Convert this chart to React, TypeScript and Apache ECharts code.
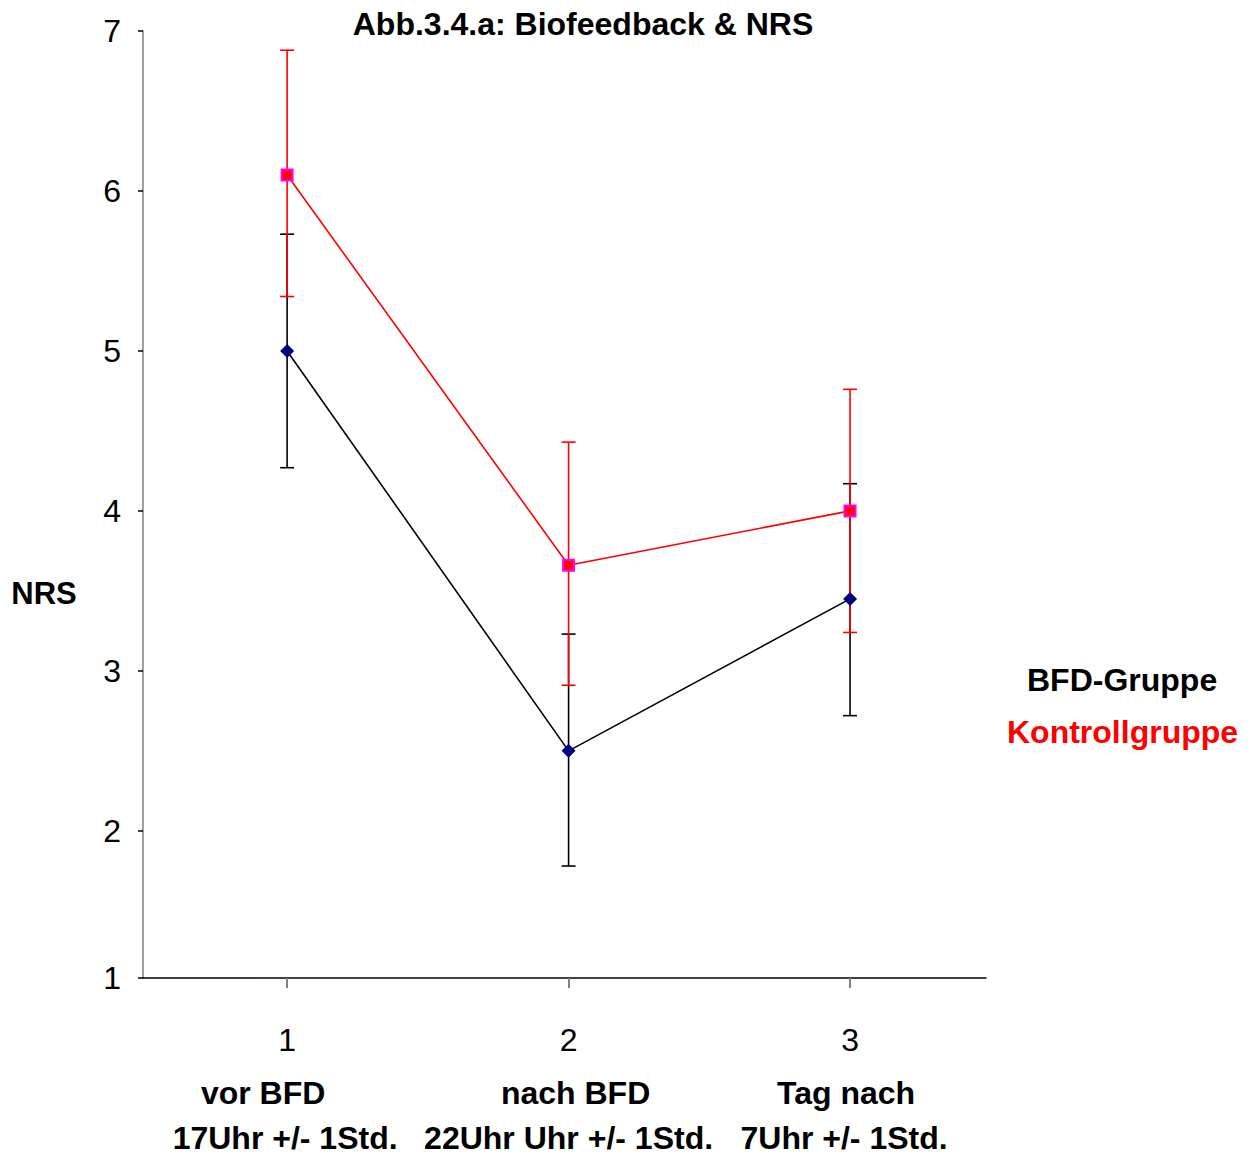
import React, { useEffect, useRef } from "react";
import * as echarts from "echarts";

const xValues = [1, 2, 3];
const labelLine1 = ["vor BFD", "nach BFD", "Tag nach"];
const labelLine2 = ["17Uhr +/- 1Std.", "22Uhr Uhr +/- 1Std.", "7Uhr +/- 1Std."];

const bfdMean = [5.0, 2.5, 3.45];
const bfdLow = [4.27, 1.78, 2.72];
const bfdHigh = [5.73, 3.23, 4.17];

const kontrMean = [6.1, 3.66, 4.0];
const kontrLow = [5.34, 2.91, 3.24];
const kontrHigh = [6.88, 4.43, 4.76];

const seriesNames = ["BFD-Gruppe", "Kontrollgruppe"];
const FONT = "'Liberation Sans', Arial, sans-serif";

function errorSeries(low: number[], high: number[], color: string, z: number) {
  return {
    type: "custom",
    z,
    silent: true,
    data: xValues.map((x, i) => [x, low[i], high[i]]),
    encode: { x: 0, y: [1, 2] },
    renderItem: (params: any, api: any) => {
      const x = api.value(0);
      const lo = api.coord([x, api.value(1)]);
      const hi = api.coord([x, api.value(2)]);
      const cap = 7;
      const style = { stroke: color, lineWidth: 1.6 };
      return {
        type: "group",
        children: [
          { type: "line", shape: { x1: lo[0], y1: lo[1], x2: hi[0], y2: hi[1] }, style },
          { type: "line", shape: { x1: hi[0] - cap, y1: hi[1], x2: hi[0] + cap, y2: hi[1] }, style },
          { type: "line", shape: { x1: lo[0] - cap, y1: lo[1], x2: lo[0] + cap, y2: lo[1] }, style },
        ],
      };
    },
  };
}

export default function App() {
  const ref = useRef<HTMLDivElement>(null);
  useEffect(() => {
    if (!ref.current) return;
    const chart = echarts.init(ref.current, null, { renderer: "svg" });
    const bold = (extra: any = {}) => ({
      fontSize: 32,
      fontWeight: "bold",
      color: "#000",
      fontFamily: FONT,
      ...extra,
    });
    chart.setOption({
      animation: false,
      textStyle: { fontFamily: FONT },
      grid: { left: 143, top: 31, width: 843, height: 947, containLabel: false },
      graphic: [
        {
          type: "text",
          x: 583,
          y: 24,
          style: {
            text: "Abb.3.4.a: Biofeedback & NRS",
            fontFamily: FONT,
            fontWeight: "bold",
            fontSize: 32,
            fill: "#000",
            align: "center",
            verticalAlign: "middle",
          },
        },
        {
          type: "text",
          x: 44,
          y: 593,
          style: {
            text: "NRS",
            fontFamily: FONT,
            fontWeight: "bold",
            fontSize: 31,
            fill: "#000",
            align: "center",
            verticalAlign: "middle",
          },
        },
      ],
      legend: [
        {
          data: [{ name: seriesNames[0], textStyle: { color: "#000" } }],
          left: 1017,
          top: 659,
          icon: "none",
          itemWidth: 0,
          selectedMode: false,
          textStyle: { fontFamily: FONT, fontWeight: "bold", fontSize: 32 },
        },
        {
          data: [{ name: seriesNames[1], textStyle: { color: "#ff0000" } }],
          left: 997,
          top: 711,
          icon: "none",
          itemWidth: 0,
          selectedMode: false,
          textStyle: { fontFamily: FONT, fontWeight: "bold", fontSize: 32 },
        },
      ],
      xAxis: {
        type: "value",
        min: 0.488,
        max: 3.483,
        splitLine: { show: false },
        axisLine: { show: true, lineStyle: { color: "#000", width: 1.5 } },
        axisTick: {
          show: true,
          length: 10,
          customValues: xValues,
          lineStyle: { color: "#808080", width: 2 },
        },
        axisLabel: {
          margin: 37,
          customValues: xValues,
          formatter: (v: number) => {
            const i = xValues.indexOf(Math.round(v * 1000) / 1000);
            if (i < 0) return "";
            return `{n|${xValues[i]}}\n{a${i}|${labelLine1[i]}}\n{b${i}|${labelLine2[i]}}`;
          },
          rich: {
            n: { fontSize: 32, lineHeight: 50, color: "#000", fontFamily: FONT },
            a0: bold({ lineHeight: 56, padding: [0, 48, 0, 0] }),
            a1: bold({ lineHeight: 56, padding: [0, 0, 0, 14] }),
            a2: bold({ lineHeight: 56, padding: [0, 8, 0, 0] }),
            b0: bold({ lineHeight: 34, padding: [0, 4, 0, 0] }),
            b1: bold({ lineHeight: 34 }),
            b2: bold({ lineHeight: 34, padding: [0, 12, 0, 0] }),
          },
        },
      },
      yAxis: {
        type: "value",
        min: 1.08,
        max: 7,
        splitNumber: 6,
        splitLine: { show: false },
        axisLine: { show: true, lineStyle: { color: "#808080", width: 1.5 } },
        axisTick: { show: true, length: 5, lineStyle: { color: "#000", width: 1.5 } },
        axisLabel: {
          margin: 22,
          fontSize: 32,
          color: "#000",
          fontFamily: FONT,
          formatter: (v: number) => String(Math.round(v)),
        },
      },
      series: [
        errorSeries(bfdLow, bfdHigh, "#000000", 2),
        errorSeries(kontrLow, kontrHigh, "#ff0000", 3),
        {
          name: seriesNames[0],
          type: "line",
          z: 4,
          data: xValues.map((x, i) => [x, bfdMean[i]]),
          symbol: "diamond",
          symbolSize: 14,
          lineStyle: { color: "#000", width: 1.6 },
          itemStyle: { color: "#000080" },
        },
        {
          name: seriesNames[1],
          type: "line",
          z: 5,
          data: xValues.map((x, i) => [x, kontrMean[i]]),
          symbol: "rect",
          symbolSize: 11,
          lineStyle: { color: "#ff0000", width: 1.6 },
          itemStyle: { color: "#ff0000", borderColor: "#ff00ff", borderWidth: 2 },
        },
      ],
    });
    return () => chart.dispose();
  }, []);
  return (
    <div
      ref={ref}
      style={{ position: "absolute", left: 0, top: 0, width: 1250, height: 1155 }}
    />
  );
}
